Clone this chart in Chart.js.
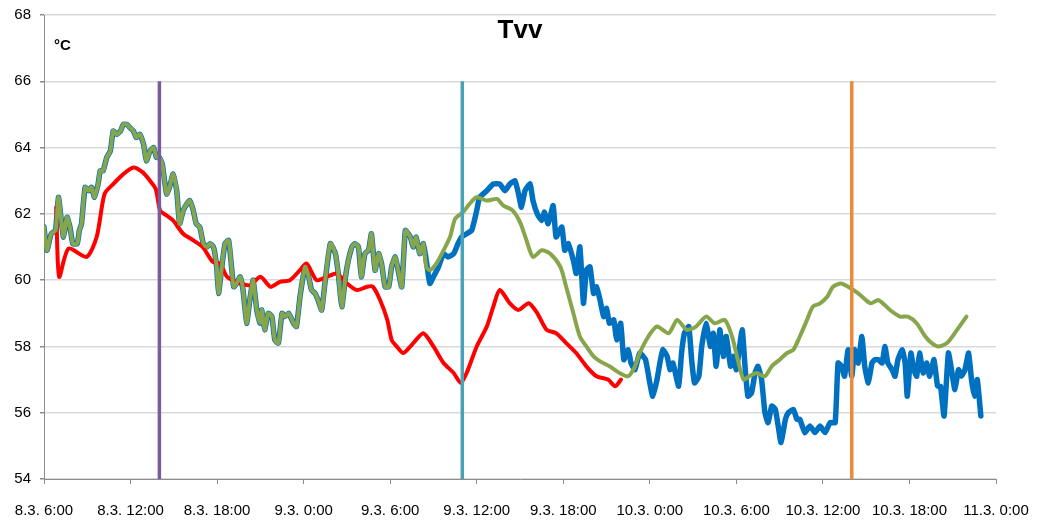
<!DOCTYPE html>
<html lang="cs">
<head>
  <meta charset="UTF-8" />
  <title>Tvv</title>
  <script src="https://cdn.jsdelivr.net/npm/chart.js"></script>
  <style>
    html, body {
      margin: 0;
      padding: 0;
      background: #fff;
    }
    #obal {
      position: relative;
      width: 1038px;
      height: 525px;
    }
    #nadpis {
      position: absolute;
      left: 0;
      width: 1038px;
      top: 14px;
      text-align: center;
      font: bold 26px "Liberation Sans", Arial, sans-serif;
      color: #000;
      padding-left: 1px;
    }
    #jednotka {
      position: absolute;
      left: 54px;
      top: 36px;
      font: bold 15px "Liberation Sans", Arial, sans-serif;
      color: #000;
    }
  </style>
</head>
<body>
  <div id="obal">
    <canvas id="graf" width="1038" height="525"></canvas>
    <div id="nadpis">Tvv</div>
    <div id="jednotka">°C</div>
  </div>

  <script>
    // popisky osy x (krok 6 h od 8.3. 6:00)
    const popiskyX = ["8.3. 6:00", "8.3. 12:00", "8.3. 18:00", "9.3. 0:00", "9.3. 6:00", "9.3. 12:00",
                      "9.3. 18:00", "10.3. 0:00", "10.3. 6:00", "10.3. 12:00", "10.3. 18:00", "11.3. 0:00"];

    // modra rada - hodiny od 8.3. 6:00 a teploty
    const modraHod = [0, 0.2, 0.5, 0.8, 1.0, 1.2, 1.35, 1.6, 1.8, 2.0, 2.3, 2.45, 2.6, 2.85, 3.1, 3.3, 3.5, 3.75, 3.9, 4.1,
      4.35, 4.6, 4.8, 5.05, 5.3, 5.5, 5.75, 5.95, 6.2, 6.4, 6.65, 6.9, 7.1, 7.35, 7.6, 7.8, 8.0, 8.2, 8.5, 8.7,
      8.95, 9.2, 9.4, 9.65, 9.9, 10.1, 10.35, 10.55, 10.8, 11.05, 11.3, 11.5, 11.75, 11.97, 12.1, 12.3, 12.55, 12.8, 13.0, 13.15,
      13.35, 13.6, 13.8, 14.05, 14.3, 14.5, 14.75, 14.98, 15.1, 15.3, 15.55, 15.8, 16.0, 16.25, 16.5, 16.7, 16.95, 17.3, 17.5, 17.75,
      18.1, 18.35, 18.55, 18.8, 19.0, 19.25, 19.5, 19.85, 20.2, 20.4, 20.65, 20.9, 21.1, 21.35, 21.55, 21.8, 22.0, 22.25, 22.5, 22.7,
      22.95, 23.2, 23.4, 23.65, 23.9, 24.1, 24.35, 24.55, 24.8, 25.05, 25.25, 25.4, 25.6, 25.8, 26.05, 26.3, 26.5, 26.75, 27.0, 27.35,
      27.7, 28.0, 28.4, 28.7, 28.95, 29.3, 29.65, 30.0, 30.2, 30.7, 31.15, 31.6, 31.95, 32.3, 32.65, 32.9, 33.1, 33.35, 33.7, 33.9,
      34.2, 34.5, 34.7, 34.95, 35.3, 35.5, 35.9, 36.1, 36.35, 36.7, 36.9, 37.15, 37.4, 37.6, 37.85, 38.1, 38.3, 38.55, 38.8, 39.0,
      39.2, 39.5, 39.7, 39.98, 40.2, 40.5, 40.7, 40.97, 41.3, 41.7, 42.0, 42.2, 42.5, 42.7, 42.9, 43.2, 43.4, 43.6, 44.0, 44.2,
      44.4, 44.7, 44.9, 45.1, 45.4, 45.6, 45.9, 46.2, 46.4, 46.6, 46.85, 47.1, 47.3, 47.6, 47.8, 48.0, 48.4, 48.6, 48.8, 49.05,
      49.3, 49.5, 49.75, 49.98, 50.2, 50.45, 50.7, 50.9, 51.1, 51.4, 51.6, 51.95, 52.2, 52.4, 52.75, 53.1, 53.45, 53.8, 54.15, 54.5,
      54.85, 55.05, 55.3, 55.5, 55.75, 56.0, 56.2, 56.45, 56.7, 56.9, 57.15, 57.4, 57.6, 57.85, 58.1, 58.3, 58.5, 58.8, 59.0, 59.2,
      59.5, 59.7, 59.85, 60.1, 60.3, 60.5, 60.7, 60.95, 61.2, 61.4, 61.7, 61.95, 62.15, 62.4, 62.7, 62.95, 63.15, 63.4, 63.6, 63.85,
      64.1, 64.3, 64.5, 64.7, 64.95];
    const modraTeplota = [61.6, 60.9, 61.4, 61.5, 62.5, 61.8, 61.3, 61.9, 61.6, 61.1, 61.1, 61.5, 61.7, 62.8, 62.7, 62.8, 62.5, 62.9, 63.3, 63.3,
      63.7, 63.9, 64.5, 64.4, 64.5, 64.7, 64.7, 64.6, 64.5, 64.3, 64.4, 64.1, 63.6, 63.9, 64.0, 63.7, 63.7, 63.5, 62.6, 62.8,
      63.2, 62.7, 61.7, 62.1, 62.3, 62.4, 62.1, 61.7, 61.6, 61.1, 61.0, 61.1, 61.0, 60.4, 59.6, 60.3, 61.1, 61.2, 60.4, 59.8,
      59.9, 60.1, 59.7, 58.7, 59.5, 60.0, 59.1, 58.7, 59.1, 58.5, 59.0, 58.9, 58.2, 58.1, 59.0, 58.9, 59.0, 58.7, 58.6, 59.5,
      60.4, 60.1, 59.7, 59.6, 59.4, 59.1, 60.0, 61.1, 60.8, 60.2, 59.2, 60.1, 60.6, 61.0, 61.1, 61.0, 60.1, 60.8, 60.9, 61.4,
      60.3, 60.8, 60.5, 59.8, 59.8, 60.4, 60.7, 60.3, 59.8, 61.5, 61.4, 61.3, 61.0, 61.3, 60.8, 61.1, 60.6, 59.9, 60.1, 60.4,
      60.8, 60.7, 60.8, 61.1, 61.3, 61.4, 61.5, 62.1, 62.5, 62.7, 62.9, 62.9, 62.7, 62.9, 63.0, 62.6, 62.2, 62.7, 62.9, 62.4,
      62.0, 61.8, 62.05, 61.7, 62.25, 61.3, 61.6, 60.9, 61.1, 60.6, 60.2, 61.0, 59.3, 60.3, 60.4, 59.6, 59.8, 59.4, 58.9, 59.15,
      58.7, 58.8, 58.2, 58.7, 57.6, 57.9, 57.5, 57.3, 57.8, 57.6, 56.9, 56.5, 57.0, 57.5, 57.9, 57.7, 57.3, 57.5, 56.8, 57.8,
      58.4, 58.6, 57.6, 56.9, 57.1, 58.0, 58.7, 58.0, 58.4, 57.4, 58.5, 57.7, 58.3, 57.4, 57.7, 57.3, 58.5, 57.4, 56.5, 56.6,
      57.2, 57.4, 57.0, 56.0, 55.7, 56.2, 56.1, 55.6, 55.1, 55.8, 56.0, 56.1, 55.8, 55.8, 55.4, 55.6, 55.4, 55.6, 55.4, 55.7,
      55.7, 57.5, 57.4, 57.1, 57.9, 57.1, 57.9, 57.5, 58.3, 57.4, 56.9, 57.5, 57.6, 57.6, 57.5, 58.0, 57.5, 57.3, 57.1, 57.6,
      57.9, 57.5, 56.5, 57.8, 57.3, 57.1, 57.8, 57.2, 57.5, 57.1, 57.6, 56.8, 56.8, 55.9, 57.8, 57.2, 56.7, 57.3, 57.1, 57.3,
      57.8, 57.0, 56.5, 57.0, 55.9];

    // zelena rada
    const zelenaHod = [0, 0.2, 0.5, 0.8, 1.0, 1.2, 1.35, 1.6, 1.8, 2.0, 2.3, 2.45, 2.6, 2.85, 3.1, 3.3, 3.5, 3.75, 3.9, 4.1,
      4.35, 4.6, 4.8, 5.05, 5.3, 5.5, 5.75, 5.95, 6.2, 6.4, 6.65, 6.9, 7.1, 7.35, 7.6, 7.8, 8.0, 8.2, 8.5, 8.7,
      8.95, 9.2, 9.4, 9.65, 9.9, 10.1, 10.35, 10.55, 10.8, 11.05, 11.3, 11.5, 11.75, 11.97, 12.1, 12.3, 12.55, 12.8, 13.0, 13.15,
      13.35, 13.6, 13.8, 14.05, 14.3, 14.5, 14.75, 14.98, 15.1, 15.3, 15.55, 15.8, 16.0, 16.25, 16.5, 16.7, 16.95, 17.3, 17.5, 17.75,
      18.1, 18.35, 18.55, 18.8, 19.0, 19.25, 19.5, 19.85, 20.2, 20.4, 20.65, 20.9, 21.1, 21.35, 21.55, 21.8, 22.0, 22.25, 22.5, 22.7,
      22.95, 23.2, 23.4, 23.65, 23.9, 24.1, 24.35, 24.55, 24.8, 25.05, 25.25, 25.4, 25.6, 25.8, 26.05, 26.3,
      26.5, 26.75, 27.2, 27.7, 28.15, 28.5, 29.05, 29.5, 30.0, 30.7, 31.4, 31.85, 32.5, 33.0, 33.45, 33.9, 34.5, 35.1, 35.8, 36.2,
      36.7, 37.15, 37.6, 38.1, 38.55, 39.2, 39.9, 40.5, 40.97, 41.3, 41.9, 42.5, 43.3, 43.9, 44.55, 45.2, 45.9, 46.5, 47.2, 47.7,
      48.1, 48.5, 48.9, 49.4, 49.98, 50.45, 51.0, 51.5, 51.95, 52.4, 52.9, 53.3, 53.8, 54.3, 54.7, 55.25, 55.75, 56.45, 57.3, 57.85,
      58.65, 59.35, 59.9, 60.5, 61.1, 61.55, 62.0, 62.6, 63.3, 63.95];
    const zelenaTeplota = [61.6, 60.9, 61.4, 61.5, 62.5, 61.8, 61.3, 61.9, 61.6, 61.1, 61.1, 61.5, 61.7, 62.8, 62.7, 62.8, 62.5, 62.9, 63.3, 63.3,
      63.7, 63.9, 64.5, 64.4, 64.5, 64.7, 64.7, 64.6, 64.5, 64.3, 64.4, 64.1, 63.6, 63.9, 64.0, 63.7, 63.7, 63.5, 62.6, 62.8,
      63.2, 62.7, 61.7, 62.1, 62.3, 62.4, 62.1, 61.7, 61.6, 61.1, 61.0, 61.1, 61.0, 60.4, 59.6, 60.3, 61.1, 61.2, 60.4, 59.8,
      59.9, 60.1, 59.7, 58.7, 59.5, 60.0, 59.1, 58.7, 59.1, 58.5, 59.0, 58.9, 58.2, 58.1, 59.0, 58.9, 59.0, 58.7, 58.6, 59.5,
      60.4, 60.1, 59.7, 59.6, 59.4, 59.1, 60.0, 61.1, 60.8, 60.2, 59.2, 60.1, 60.6, 61.0, 61.1, 61.0, 60.1, 60.8, 60.9, 61.4,
      60.3, 60.8, 60.5, 59.8, 59.8, 60.4, 60.7, 60.3, 59.8, 61.5, 61.4, 61.3, 61.0, 61.3, 60.8, 61.1,
      60.4, 60.3, 60.5, 60.9, 61.3, 61.85, 62.05, 62.3, 62.5, 62.4, 62.45, 62.25, 62.1, 61.75, 61.2, 60.7, 60.9, 60.8, 60.4, 59.8,
      59.0, 58.3, 58.0, 57.7, 57.55, 57.4, 57.2, 57.1, 57.4, 57.8, 58.3, 58.6, 58.4, 58.8, 58.5, 58.6, 58.9, 58.7, 58.8, 58.3,
      57.6, 57.0, 57.1, 57.2, 57.1, 57.4, 57.6, 57.8, 57.9, 58.3, 58.8, 59.2, 59.3, 59.5, 59.8, 59.9, 59.8, 59.6, 59.3, 59.4,
      59.1, 58.9, 58.9, 58.7, 58.3, 58.1, 58.0, 58.1, 58.5, 58.9];

    // cervena rada
    const cervenaHod = [0.85, 1.05, 1.7, 2.95, 3.65, 4.2, 4.8, 5.5, 6.2, 6.85, 7.35, 7.75, 8.05, 8.5, 8.95, 9.65, 10.35, 11.0, 11.7, 12.2,
      12.7, 13.6, 14.3, 15.0, 15.7, 16.35, 17.05, 17.75, 18.2, 18.9, 19.6, 20.3, 21.0, 21.7, 22.4, 22.8, 23.3, 23.8, 24.1, 24.45,
      24.9, 25.4, 25.6, 26.3, 27.0, 27.7, 28.4, 28.9, 29.3, 30.0, 30.7, 31.15, 31.6, 32.3, 32.9, 33.6, 34.2, 34.85, 35.5, 36.2,
      36.9, 37.6, 38.3, 39.1, 39.6, 40.0];
    const cervenaTeplota = [62.2, 60.1, 60.95, 60.7, 61.3, 62.6, 62.9, 63.2, 63.4, 63.25, 63.0, 62.75, 62.1, 61.95, 61.8, 61.4, 61.2, 61.0, 60.55, 60.5,
      60.1, 59.9, 59.85, 60.1, 59.8, 59.95, 60.0, 60.3, 60.5, 60.0, 60.1, 60.2, 59.9, 59.7, 59.8, 59.8, 59.4, 58.8, 58.2, 58.0,
      57.8, 58.0, 58.1, 58.4, 58.0, 57.5, 57.2, 56.9, 57.2, 58.0, 58.6, 59.2, 59.7, 59.3, 59.1, 59.3, 59.0, 58.5, 58.4, 58.1,
      57.8, 57.4, 57.1, 57.0, 56.8, 57.0];

    // svisle znacky (hodiny) a jejich rozsah
    const znackyHod = [8, 29, 56];
    const znackyBarvy = ["#7A5B9C", "#4AA2B8", "#E98A3D"];
    const znackaRozsah = [54, 66];

    function body(hod, tep) {
      return hod.map((h, i) => ({ x: h, y: tep[i] }));
    }

    const datasety = [];
    znackyHod.forEach((h, i) => {
      datasety.push({
        data: znackaRozsah.map(v => ({ x: h, y: v })),
        borderColor: znackyBarvy[i],
        borderWidth: 3.5,
        pointRadius: 0,
        order: 0
      });
    });
    datasety.push({
      data: body(zelenaHod, zelenaTeplota),
      borderColor: "#87A64C",
      borderWidth: 4,
      pointRadius: 0,
      tension: 0.25,
      borderJoinStyle: "round",
      borderCapStyle: "round",
      order: 1
    });
    datasety.push({
      data: body(cervenaHod, cervenaTeplota),
      borderColor: "#FF0000",
      borderWidth: 4,
      pointRadius: 0,
      tension: 0.25,
      borderJoinStyle: "round",
      borderCapStyle: "round",
      order: 2
    });
    datasety.push({
      data: body(modraHod, modraTeplota),
      borderColor: "#0070C0",
      borderWidth: 5.5,
      pointRadius: 0,
      tension: 0.15,
      borderJoinStyle: "round",
      borderCapStyle: "round",
      order: 3
    });

    const pismo = { family: '"Liberation Sans", Arial, sans-serif', size: 15 };

    new Chart(document.getElementById("graf"), {
      type: "line",
      data: { datasets: datasety },
      options: {
        responsive: false,
        animation: false,
        events: [],
        layout: { autoPadding: false, padding: { top: 15, right: 42, left: 0, bottom: 0 } },
        plugins: {
          legend: { display: false },
          tooltip: { enabled: false },
          title: { display: false }
        },
        scales: {
          x: {
            type: "linear",
            min: 0,
            max: 66,
            afterFit: s => {
              s.height = 46;
              s.paddingLeft = 0;
              s.paddingRight = 0;
            },
            afterBuildTicks: s => {
              s.ticks = popiskyX.map((p, i) => ({ value: i * 6 }));
            },
            ticks: {
              autoSkip: false,
              maxRotation: 0,
              color: "#000",
              font: pismo,
              padding: 18,
              callback: (v, i) => popiskyX[i]
            },
            grid: {
              drawOnChartArea: false,
              drawTicks: true,
              tickLength: 5,
              tickColor: "#8C8C8C"
            },
            border: { color: "#8C8C8C", width: 1 }
          },
          y: {
            min: 54,
            max: 68,
            afterFit: s => {
              s.width = 44;
              s.paddingTop = 0;
              s.paddingBottom = 0;
            },
            ticks: {
              stepSize: 2,
              color: "#000",
              font: pismo,
              padding: 9
            },
            grid: {
              color: "#D9D9D9",
              tickColor: "#8C8C8C",
              tickLength: 4,
              lineWidth: 1.5
            },
            border: { color: "#8C8C8C", width: 1 }
          }
        }
      }
    });
  </script>
</body>
</html>
